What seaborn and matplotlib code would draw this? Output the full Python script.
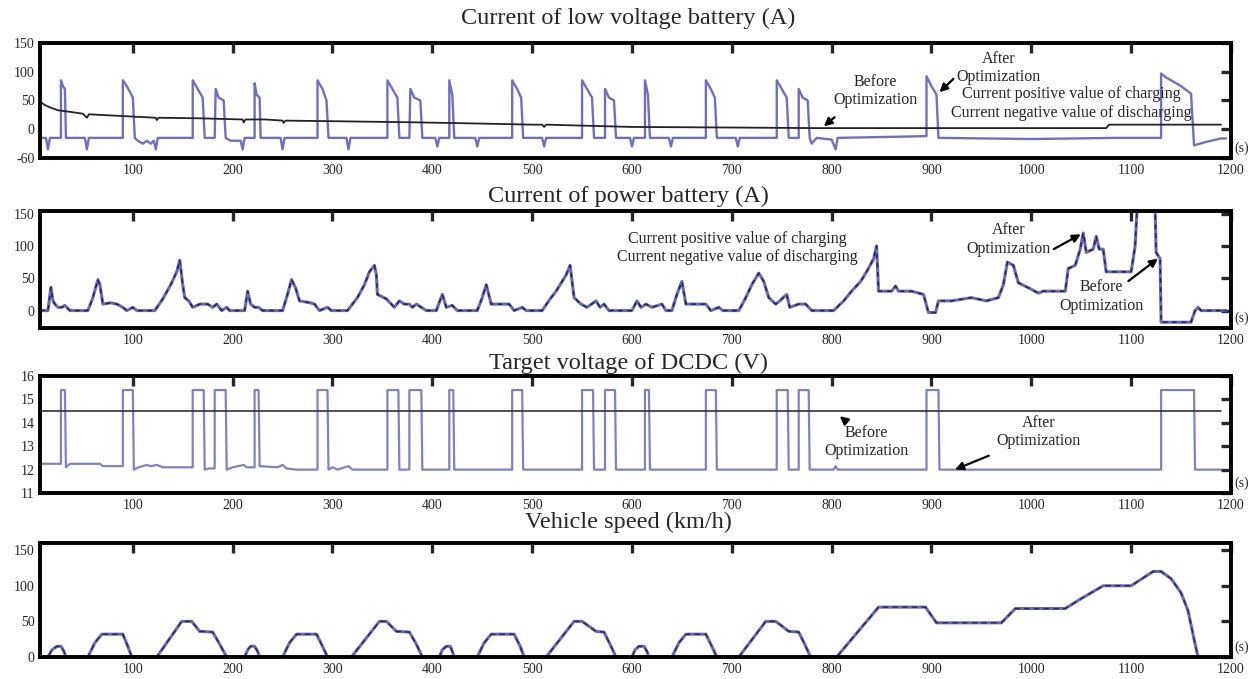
import pandas as pd
import seaborn as sns
import matplotlib.pyplot as plt

# ---- data (time [s], value) ----
lv_after = [(7, -15), (13, -15), (15, -35), (17, -15), (28, -15), (28, 85), (30, 75), (32, 70), (33, -15),
            (52, -15), (54, -35), (56, -15), (90, -15), (90, 85), (94, 75), (100, 55), (102, -15), (105, -20),
            (110, -25), (114, -20), (118, -25), (121, -20), (123, -35), (125, -15), (160, -15), (160, 85),
            (165, 70), (170, 55), (172, -15), (182, -15), (183, 70), (186, 55), (191, 50), (193, -15),
            (198, -20), (208, -20), (210, -35), (212, -15), (222, -15), (222, 80), (224, 60), (227, 55),
            (228, -15), (248, -15), (250, -35), (252, -15), (285, -15), (285, 85), (290, 70), (294, 50),
            (296, -15), (314, -15), (316, -35), (318, -15), (355, -15), (355, 85), (360, 70), (365, 55),
            (367, -15), (377, -15), (378, 70), (382, 55), (388, 50), (390, -15), (403, -15), (405, -30),
            (407, -15), (417, -15), (417, 85), (420, 60), (422, -15), (443, -15), (445, -30), (447, -15),
            (480, -15), (480, 85), (485, 70), (489, 55), (491, -15), (510, -15), (512, -30), (514, -15),
            (550, -15), (550, 85), (555, 70), (560, 55), (562, -15), (573, -15), (573, 70), (577, 55),
            (582, 50), (584, -15), (598, -15), (600, -30), (602, -15), (613, -15), (613, 85), (616, 60),
            (618, -15), (637, -15), (639, -30), (641, -15), (674, -15), (674, 85), (679, 70), (683, 55),
            (685, -15), (704, -15), (706, -30), (708, -15), (745, -15), (745, 85), (750, 70), (755, 55),
            (757, -15), (767, -15), (767, 70), (771, 55), (776, 50), (778, -15), (780, -25), (785, -15),
            (800, -18), (804, -35), (806, -15), (895, -12), (895, 92), (900, 75), (905, 60), (907, -15),
            (1000, -17), (1085, -15), (1130, -15), (1130, 97), (1135, 90), (1150, 75), (1160, 62),
            (1163, -28), (1175, -22), (1190, -16), (1195, -16)]

lv_before = [(7, 48), (12, 42), (17, 38), (25, 33), (34, 31), (50, 27), (54, 20), (56, 26), (67, 25),
             (100, 22), (123, 20), (124, 16), (126, 20), (167, 19), (210, 17), (211, 12), (213, 17),
             (233, 17), (250, 15), (251, 11), (253, 15), (300, 14), (383, 12), (445, 10), (500, 8),
             (510, 8), (512, 4), (514, 8), (600, 4), (700, 3), (783, 2), (1075, 2), (1078, 8), (1190, 8)]

power = [(7, 0), (15, 0), (18, 36), (20, 15), (22, 10), (25, 5), (29, 5), (32, 8), (35, 3), (37, 0),
         (55, 0), (60, 20), (65, 48), (67, 40), (70, 10), (78, 12), (84, 10), (90, 5), (94, 0), (100, 5),
         (104, 0), (122, 0), (130, 18), (138, 40), (144, 60), (147, 78), (150, 40), (152, 20), (156, 15),
         (160, 5), (167, 10), (175, 10), (180, 5), (184, 10), (189, 0), (194, 5), (197, 0), (212, 0),
         (215, 30), (218, 10), (222, 5), (226, 5), (230, 0), (250, 0), (255, 25), (259, 48), (263, 35),
         (267, 15), (278, 12), (282, 10), (287, 0), (295, 5), (299, 0), (315, 0), (325, 20), (332, 40),
         (337, 60), (342, 70), (344, 55), (345, 25), (354, 18), (362, 5), (367, 15), (372, 10), (377, 10),
         (380, 5), (384, 10), (394, 0), (404, 0), (410, 25), (414, 5), (420, 8), (425, 0), (445, 0),
         (450, 20), (454, 40), (459, 10), (477, 10), (482, 0), (490, 5), (494, 0), (510, 0), (518, 18),
         (524, 30), (534, 55), (538, 70), (540, 45), (542, 20), (549, 10), (555, 5), (564, 15), (568, 5),
         (572, 10), (577, 0), (600, 0), (605, 15), (609, 5), (614, 10), (620, 5), (630, 10), (634, 0),
         (640, 0), (645, 25), (650, 45), (654, 10), (674, 10), (679, 0), (687, 5), (691, 0), (707, 0),
         (714, 20), (720, 40), (727, 58), (732, 45), (737, 20), (744, 10), (748, 15), (755, 25), (758, 5),
         (767, 10), (774, 10), (780, 0), (802, 0), (812, 15), (820, 30), (829, 45), (835, 60), (842, 80),
         (845, 100), (847, 30), (860, 30), (864, 38), (867, 30), (880, 30), (892, 25), (897, -3),
         (904, -3), (907, 15), (920, 15), (940, 20), (955, 15), (967, 20), (972, 40), (976, 75), (982, 70),
         (987, 43), (1000, 33), (1007, 27), (1012, 30), (1034, 30), (1037, 65), (1044, 70), (1049, 95),
         (1052, 120), (1055, 90), (1062, 95), (1065, 115), (1068, 95), (1072, 95), (1075, 60), (1100, 60),
         (1104, 100), (1106, 160), (1124, 160), (1125, 90), (1129, 80), (1130, -18), (1160, -18),
         (1164, 0), (1167, 5), (1170, 0), (1195, 0)]

dcdc_after = [(7, 12.25), (28, 12.25), (28, 15.4), (32, 15.4), (33, 12.1), (37, 12.25), (67, 12.25),
              (70, 12.15), (90, 12.15), (90, 15.4), (100, 15.4), (101, 12.0), (106, 12.1), (114, 12.2),
              (118, 12.15), (124, 12.2), (130, 12.1), (160, 12.1), (160, 15.4), (171, 15.4), (172, 12.0),
              (176, 12.05), (182, 12.05), (182, 15.4), (193, 15.4), (194, 12.0), (200, 12.1), (211, 12.2),
              (214, 12.1), (222, 12.1), (222, 15.4), (226, 15.4), (227, 12.15), (245, 12.1), (250, 12.2),
              (254, 12.05), (264, 12.0), (285, 12.0), (285, 15.4), (295, 15.4), (296, 12.0), (300, 12.1),
              (305, 12.0), (316, 12.15), (320, 12.0), (355, 12.0), (355, 15.4), (366, 15.4), (367, 12.0),
              (377, 12.0), (377, 15.4), (389, 15.4), (390, 12.0), (417, 12.0), (417, 15.4), (421, 15.4),
              (422, 12.0), (480, 12.0), (480, 15.4), (490, 15.4), (491, 12.0), (550, 12.0), (550, 15.4),
              (561, 15.4), (562, 12.0), (573, 12.0), (573, 15.4), (583, 15.4), (584, 12.0), (613, 12.0),
              (613, 15.4), (617, 15.4), (618, 12.0), (674, 12.0), (674, 15.4), (684, 15.4), (685, 12.0),
              (745, 12.0), (745, 15.4), (756, 15.4), (757, 12.0), (767, 12.0), (767, 15.4), (777, 15.4),
              (778, 12.0), (802, 12.0), (804, 12.15), (806, 12.0), (895, 12.0), (895, 15.4), (907, 15.4),
              (908, 12.0), (1130, 12.0), (1130, 15.4), (1163, 15.4), (1164, 12.0), (1190, 12.0)]

dcdc_before = [(7, 14.5), (1190, 14.5)]

speed = [(7, 0), (15, 0), (19, 10), (24, 15), (28, 15), (31, 8), (33, 0), (55, 0), (62, 20), (69, 32),
         (90, 32), (95, 15), (99, 0), (124, 0), (149, 50), (159, 50), (167, 36), (180, 35), (187, 18),
         (194, 0), (212, 0), (215, 10), (218, 15), (222, 15), (225, 8), (227, 0), (250, 0), (257, 20),
         (264, 32), (284, 32), (290, 15), (295, 0), (319, 0), (347, 50), (354, 50), (364, 36), (377, 35),
         (384, 18), (390, 0), (407, 0), (410, 10), (414, 15), (418, 15), (420, 8), (422, 0), (445, 0),
         (452, 20), (459, 32), (482, 32), (488, 15), (492, 0), (514, 0), (542, 50), (550, 50), (564, 36),
         (572, 35), (578, 18), (584, 0), (600, 0), (603, 10), (607, 15), (612, 15), (615, 8), (617, 0),
         (640, 0), (647, 20), (654, 32), (674, 32), (680, 15), (685, 0), (707, 0), (734, 50), (744, 50),
         (757, 36), (767, 35), (773, 18), (779, 0), (805, 0), (847, 70), (894, 70), (905, 48), (970, 48),
         (984, 68), (1034, 68), (1050, 82), (1072, 100), (1100, 100), (1122, 120), (1130, 120),
         (1140, 110), (1150, 90), (1157, 65), (1163, 25), (1167, 0)]

titles = ["Current of low voltage battery (A)", "Current of power battery (A)",
          "Target voltage of DCDC (V)", "Vehicle speed (km/h)"]
charge_text = "Current positive value of charging\nCurrent negative value of discharging"


def frame(series):
    return pd.DataFrame(series, columns=["t", "v"])


sns.set_style("white")
plt.rcParams["font.family"] = ["Liberation Serif", "DejaVu Serif"]

BLUE = "#5656b8"
fig = plt.figure(figsize=(12.57, 6.79), dpi=100)

boxes = [(0.0318, 0.7673, 0.9475, 0.1694),
         (0.0318, 0.5169, 0.9475, 0.1723),
         (0.0318, 0.2739, 0.9475, 0.1723),
         (0.0318, 0.0324, 0.9475, 0.1679)]
title_y = [18, 196, 363, 522]
axes = [fig.add_axes(b) for b in boxes]

for ax, ty, title in zip(axes, title_y, titles):
    fig.text(0.5, 1 - ty / 679, title, ha="center", va="center", fontsize=17.5)

kw = dict(estimator=None, sort=False)

# panel 1
ax = axes[0]
sns.lineplot(data=frame(lv_after), x="t", y="v", ax=ax, color=BLUE, lw=1.7, alpha=0.85, **kw)
sns.lineplot(data=frame(lv_before), x="t", y="v", ax=ax, color="#222222", lw=1.3, **kw)
ax.set_ylim(-50, 150)
ax.set_yticks([-50, 0, 50, 100, 150], ["-60", "0", "50", "100", "150"])

# panel 2
ax = axes[1]
sns.lineplot(data=frame(power), x="t", y="v", ax=ax, color=BLUE, lw=2.2, alpha=0.9, **kw)
sns.lineplot(data=frame(power), x="t", y="v", ax=ax, color="#111111", lw=1.1, alpha=0.75, **kw)
ax.lines[-1].set_dashes((3, 3))
ax.set_ylim(-27, 154)
ax.set_yticks([0, 50, 100, 150])

# panel 3
ax = axes[2]
sns.lineplot(data=frame(dcdc_after), x="t", y="v", ax=ax, color=BLUE, lw=1.6, alpha=0.75, **kw)
sns.lineplot(data=frame(dcdc_before), x="t", y="v", ax=ax, color="#333333", lw=1.2, **kw)
ax.set_ylim(11, 16)
ax.set_yticks([11, 12, 13, 14, 15, 16])

# panel 4
ax = axes[3]
sns.lineplot(data=frame(speed), x="t", y="v", ax=ax, color=BLUE, lw=2.2, alpha=0.9, **kw)
sns.lineplot(data=frame(speed), x="t", y="v", ax=ax, color="#111111", lw=1.0, alpha=0.7, **kw)
ax.lines[-1].set_dashes((4, 3))
ax.set_ylim(0, 160)
ax.set_yticks([0, 50, 100, 150])

for ax in axes:
    ax.set_xlim(7, 1200)
    ax.set_xticks(range(100, 1201, 100))
    ax.set_xlabel("")
    ax.set_ylabel("")
    for s in ax.spines.values():
        s.set_linewidth(2.8)
        s.set_color("black")
    ax.tick_params(direction="in", length=7, width=2.4, top=True, right=True,
                   labelsize=10, pad=4, labelright=False, labeltop=False)
    ax.text(1.003, 0.03, "(s)", transform=ax.transAxes, ha="left", va="bottom", fontsize=10)

arrow = dict(arrowstyle="-|>", color="black", lw=1.6, mutation_scale=12)
tsize = 11.5

ax = axes[0]
ax.text(844, 66, "Before\nOptimization", ha="center", va="center", fontsize=tsize)
ax.annotate("", xy=(790, 2), xytext=(805, 24), arrowprops=arrow)
ax.text(967, 106, "After\nOptimization", ha="center", va="center", fontsize=tsize)
ax.annotate("", xy=(906, 61), xytext=(924, 91), arrowprops=arrow)
ax.text(1040, 45, charge_text, ha="center", va="center", fontsize=tsize)

ax = axes[1]
ax.text(706, 97, charge_text, ha="center", va="center", fontsize=tsize)
ax.text(977, 110, "After\nOptimization", ha="center", va="center", fontsize=tsize)
ax.annotate("", xy=(1052, 120), xytext=(1020, 93), arrowprops=arrow)
ax.text(1070, 22, "Before\nOptimization", ha="center", va="center", fontsize=tsize)
ax.annotate("", xy=(1129, 83), xytext=(1095, 43), arrowprops=arrow)

ax = axes[2]
ax.text(835, 13.18, "Before\nOptimization", ha="center", va="center", fontsize=tsize)
ax.annotate("", xy=(806, 14.36), xytext=(817, 13.97), arrowprops=arrow)
ax.text(1007, 13.6, "After\nOptimization", ha="center", va="center", fontsize=tsize)
ax.annotate("", xy=(921, 11.96), xytext=(960, 12.64), arrowprops=arrow)

fig.savefig("out.png", dpi=100)
